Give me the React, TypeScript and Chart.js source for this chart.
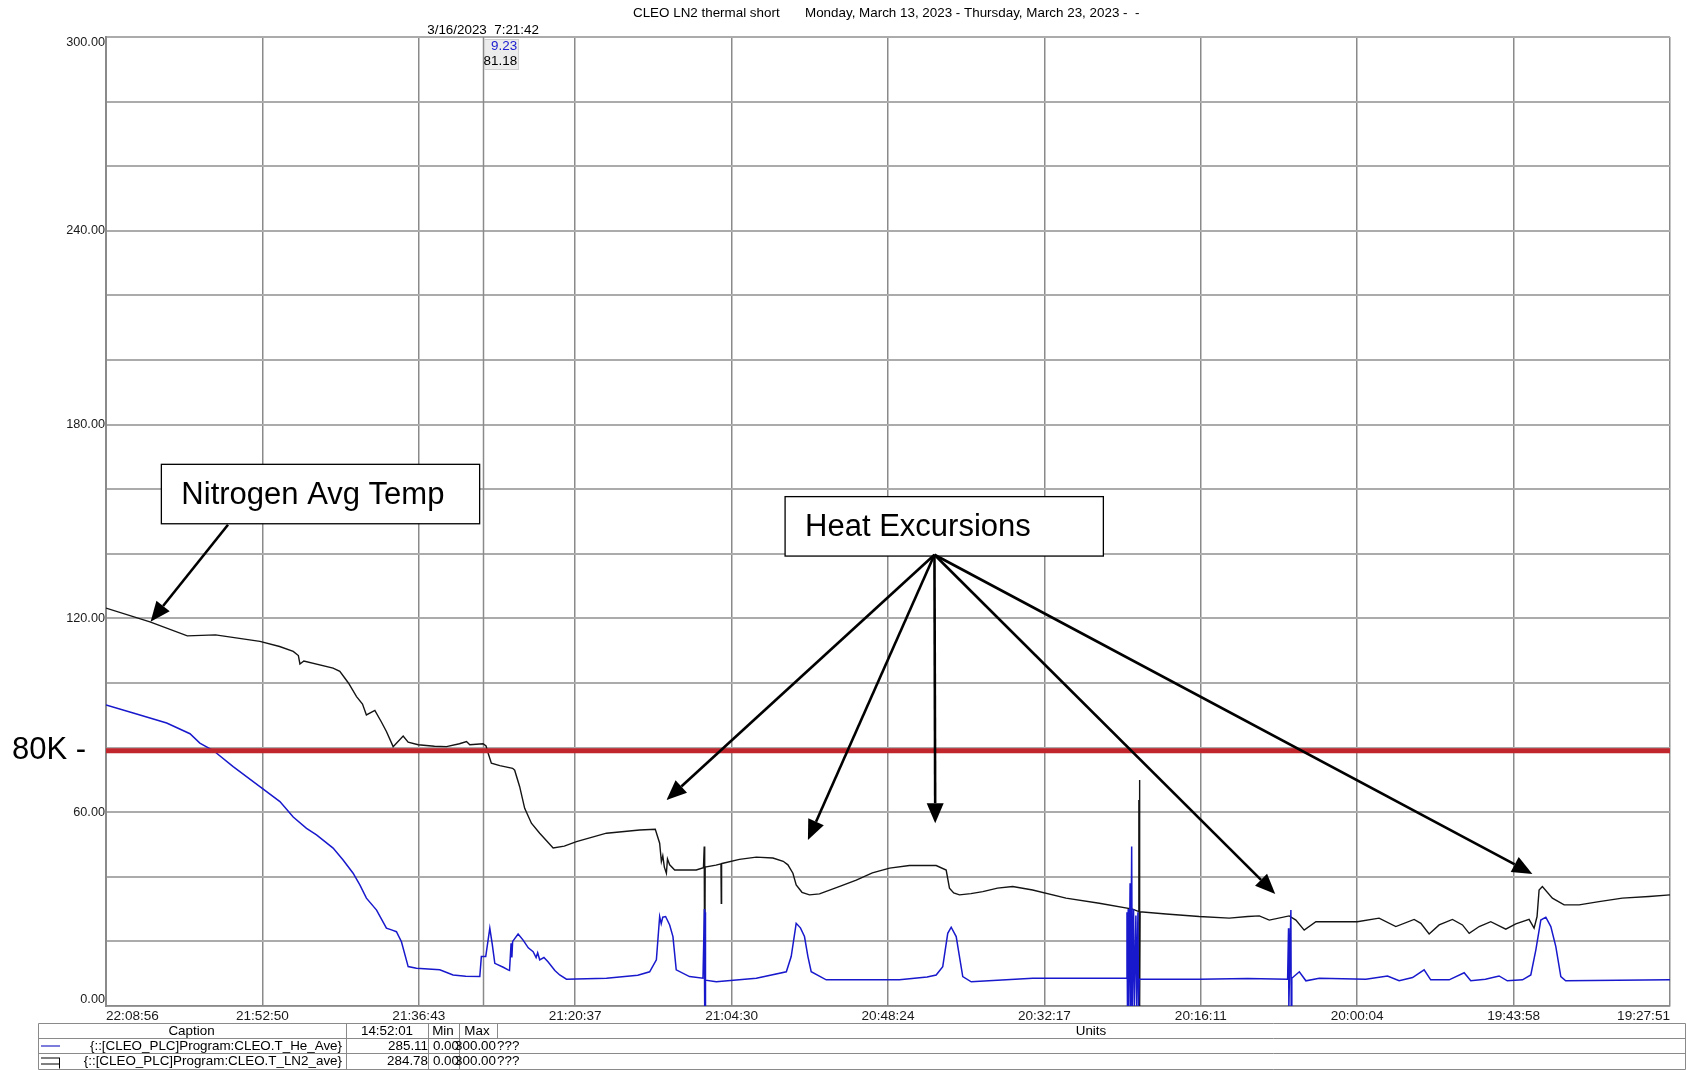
import React, { useEffect, useRef } from "react";
import { Chart, registerables } from "chart.js";

Chart.register(...registerables);

// ---------- data ----------
const chartTitle = "CLEO LN2 thermal short";
const chartRange = "Monday, March 13, 2023 - Thursday, March 23, 2023 -  -";

const xTickLabels = [
  "22:08:56", "21:52:50", "21:36:43", "21:20:37", "21:04:30", "20:48:24",
  "20:32:17", "20:16:11", "20:00:04", "19:43:58", "19:27:51",
];

// LN2 average temperature (black), x in days from the left edge
const lnDays = [
  0.0, 0.281, 0.52, 0.7, 0.984, 1.11, 1.197, 1.23, 1.24, 1.265, 1.452, 1.495, 1.55, 1.602, 1.64, 1.665,
  1.719, 1.76, 1.793, 1.836, 1.9, 1.932, 1.996, 2.1, 2.177, 2.26, 2.305, 2.326, 2.411, 2.43, 2.443, 2.464,
  2.518, 2.6, 2.613, 2.645, 2.677, 2.72, 2.773, 2.859, 2.93, 3.008, 3.2, 3.412, 3.512, 3.54, 3.551, 3.56,
  3.57, 3.583, 3.59, 3.604, 3.636, 3.774, 3.82, 3.825, 3.828, 3.831, 3.9, 3.932, 3.934, 3.936, 3.945, 4.05,
  4.158, 4.264, 4.33, 4.36, 4.392, 4.413, 4.45, 4.498, 4.562, 4.7, 4.797, 4.9, 5.01, 5.137, 5.308, 5.372,
  5.393, 5.42, 5.457, 5.53, 5.606, 5.7, 5.797, 5.925, 6.138, 6.351, 6.564, 6.6, 6.604, 6.606, 6.608, 6.61,
  6.612, 6.778, 6.99, 7.182, 7.3, 7.374, 7.438, 7.565, 7.608, 7.661, 7.736, 7.843, 8.0, 8.14, 8.247, 8.364,
  8.407, 8.46, 8.524, 8.609, 8.673, 8.716, 8.78, 8.854, 8.95, 9.014, 9.099, 9.131, 9.15, 9.163, 9.184, 9.248,
  9.323, 9.419, 9.546, 9.695, 9.866, 10.0,
];
const lnTemps = [
  123.2, 118.9, 114.6, 114.9, 112.9, 111.3, 109.8, 108.5, 105.9, 106.8, 104.6, 103.6, 100.0, 95.8, 93.5, 90.1,
  91.5, 88.0, 85.0, 80.3, 83.6, 81.7, 80.9, 80.4, 80.3, 81.2, 81.9, 80.9, 81.2, 80.5, 78.3, 75.2,
  74.4, 73.6, 73.0, 67.9, 61.2, 56.6, 53.5, 48.9, 49.5, 50.9, 53.5, 54.5, 54.7, 50.4, 44.7, 46.5,
  43.0, 41.1, 45.5, 43.7, 42.1, 42.1, 42.8, 49.4, 0.0, 43.0, 43.6, 44.0, 31.8, 44.1, 44.2, 45.4,
  46.1, 45.8, 44.8, 43.7, 41.1, 37.5, 35.2, 34.4, 34.7, 37.2, 39.0, 41.2, 42.7, 43.5, 43.5, 42.1,
  36.5, 35.0, 34.4, 34.8, 35.4, 36.5, 37.0, 35.9, 33.4, 31.8, 30.0, 29.3, 63.8, 0.0, 70.0, 0.0,
  29.2, 28.5, 27.7, 27.2, 27.7, 27.9, 26.6, 27.9, 26.6, 23.5, 26.1, 26.1, 26.1, 27.2, 24.6, 26.8,
  25.6, 22.3, 25.1, 26.8, 25.1, 22.5, 24.6, 26.1, 23.8, 25.4, 26.8, 24.1, 27.7, 35.9, 37.0, 33.4,
  31.3, 31.3, 32.3, 33.4, 33.9, 34.4,
];

// Helium average temperature (blue)
const heDays = [
  0.0, 0.174, 0.388, 0.537, 0.6, 0.686, 0.813, 0.984, 1.112, 1.197, 1.282, 1.346, 1.452, 1.516, 1.58, 1.623,
  1.665, 1.73, 1.793, 1.83, 1.857, 1.889, 1.932, 1.985, 2.134, 2.219, 2.3, 2.39, 2.4, 2.428, 2.454, 2.47,
  2.486, 2.54, 2.571, 2.58, 2.59, 2.595, 2.6, 2.635, 2.667, 2.7, 2.731, 2.75, 2.76, 2.773, 2.8, 2.826,
  2.87, 2.901, 2.944, 3.2, 3.4, 3.476, 3.519, 3.54, 3.55, 3.56, 3.578, 3.604, 3.625, 3.646, 3.731, 3.817,
  3.826, 3.828, 3.83, 3.832, 3.834, 3.902, 4.158, 4.35, 4.381, 4.413, 4.44, 4.466, 4.488, 4.509, 4.605, 5.073,
  5.25, 5.308, 5.35, 5.382, 5.404, 5.436, 5.457, 5.478, 5.532, 5.925, 6.351, 6.522, 6.528, 6.531, 6.536, 6.54,
  6.548, 6.552, 6.558, 6.562, 6.57, 6.575, 6.585, 6.59, 6.598, 6.602, 6.606, 6.99, 7.3, 7.555, 7.561, 7.563,
  7.576, 7.578, 7.582, 7.63, 7.672, 7.758, 8.055, 8.194, 8.268, 8.354, 8.428, 8.47, 8.588, 8.684, 8.726, 8.82,
  8.907, 8.96, 9.057, 9.11, 9.142, 9.174, 9.206, 9.238, 9.27, 9.302, 9.333, 10.0,
];
const heTemps = [
  93.2, 90.7, 87.6, 84.3, 81.4, 79.1, 74.1, 67.9, 63.3, 58.5, 55.0, 53.0, 48.9, 45.2, 41.1, 37.5,
  33.4, 29.7, 24.1, 23.5, 23.0, 19.9, 12.2, 11.7, 11.2, 9.6, 9.2, 9.1, 15.3, 15.3, 24.1, 19.0,
  13.2, 12.0, 11.2, 11.0, 19.4, 15.0, 20.0, 22.3, 20.4, 18.0, 16.8, 15.0, 16.5, 14.3, 15.0, 13.7,
  11.0, 9.6, 8.3, 8.6, 9.5, 10.6, 14.3, 27.7, 25.5, 27.5, 27.7, 25.1, 21.5, 11.2, 9.1, 8.6,
  30.0, 0.0, 29.0, 0.0, 8.0, 7.5, 8.6, 10.6, 15.3, 25.6, 24.2, 21.5, 15.3, 10.6, 8.1, 8.1,
  9.0, 9.6, 12.2, 22.5, 24.4, 21.5, 15.3, 9.1, 7.5, 8.6, 8.6, 8.6, 29.0, 0.0, 30.0, 0.0,
  38.0, 0.0, 49.4, 0.0, 30.0, 0.0, 28.0, 0.0, 29.0, 0.0, 8.3, 8.3, 8.5, 8.3, 24.1, 0.0,
  29.7, 0.0, 8.6, 10.6, 7.8, 8.6, 8.3, 9.3, 7.8, 8.8, 11.2, 8.1, 8.1, 10.3, 7.8, 8.3,
  9.3, 7.8, 8.1, 9.6, 17.3, 26.6, 27.5, 24.6, 18.4, 9.1, 7.8, 8.1,
];

const thresholdValue = 79;
const thresholdLabel = "80K -";

const cursorDay = 2.411;
const cursorStamp = "3/16/2023  7:21:42";
const cursorHe = "9.23";
const cursorLn = "81.18";

const noteTexts = ["Nitrogen Avg Temp", "Heat Excursions"];
// box corners in data units: [x0, x1, yTop, yBottom]
const noteBoxes = [
  [0.354, 2.389, 167.7, 149.3],
  [4.342, 6.377, 157.7, 139.3],
];
// arrows in data units: [fromX, fromY, toX, toY]
const noteArrows = [
  [0.78, 149.0, 0.285, 119.0],
  [5.297, 139.7, 3.584, 63.8],
  [5.297, 139.7, 4.488, 51.4],
  [5.297, 139.7, 5.302, 56.6],
  [5.297, 139.7, 7.476, 34.7],
  [5.297, 139.7, 9.12, 40.9],
];

const tableHeaders = ["Caption", "14:52:01", "Min", "Max", "Units"];
const legendCaptions = [
  "{::[CLEO_PLC]Program:CLEO.T_He_Ave}",
  "{::[CLEO_PLC]Program:CLEO.T_LN2_ave}",
];
const legendNow = ["285.11", "284.78"];
const legendMin = ["0.00", "0.00"];
const legendMax = ["300.00", "300.00"];
const legendUnits = ["???", "???"];

// ---------- styling ----------
const FONT = '"Liberation Sans", Arial, sans-serif';
const SMALL = 13.4;
const BLUE = "#1818cc";
const BLACK = "#141414";
const RED = "#c0262c";
const GRID_V = "#8a8a8a";
const GRID_H = "#ababab";

function arrow(ctx: CanvasRenderingContext2D, x1: number, y1: number, x2: number, y2: number) {
  const ang = Math.atan2(y2 - y1, x2 - x1);
  const head = 20;
  const half = 8.5;
  const bx = x2 - head * Math.cos(ang);
  const by = y2 - head * Math.sin(ang);
  ctx.beginPath();
  ctx.moveTo(x1, y1);
  ctx.lineTo(bx, by);
  ctx.lineWidth = 2.6;
  ctx.strokeStyle = "#000";
  ctx.stroke();
  ctx.beginPath();
  ctx.moveTo(x2, y2);
  ctx.lineTo(bx + half * Math.sin(ang), by - half * Math.cos(ang));
  ctx.lineTo(bx - half * Math.sin(ang), by + half * Math.cos(ang));
  ctx.closePath();
  ctx.fillStyle = "#000";
  ctx.fill();
}

const decorPlugin = {
  id: "decor",
  beforeDraw(chart: any) {
    const { ctx, width, height } = chart;
    ctx.save();
    ctx.fillStyle = "#fff";
    ctx.fillRect(0, 0, width, height);
    ctx.restore();
    // nudge the end labels of the y axis inside the plot, like the original trend viewer
    try {
      const ys = chart.scales.y;
      const items = ys.getLabelItems(chart.chartArea);
      items.forEach((it: any) => {
        if (it.label === "0.00") it.options.translation[1] -= 7;
        else if (it.label === "300.00") it.options.translation[1] += 5;
      });
    } catch (e) {
      /* ignore */
    }
  },
  beforeDatasetsDraw(chart: any) {
    const { ctx, chartArea, scales } = chart;
    const px = Math.round(scales.x.getPixelForValue(cursorDay)) + 0.5;
    ctx.save();
    ctx.strokeStyle = GRID_V;
    ctx.lineWidth = 1.5;
    ctx.beginPath();
    ctx.moveTo(px, chartArea.top);
    ctx.lineTo(px, chartArea.bottom);
    ctx.stroke();
    ctx.restore();
  },
  afterDraw(chart: any) {
    const { ctx, scales } = chart;
    const xs = scales.x;
    const ys = scales.y;
    ctx.save();

    // title
    ctx.fillStyle = "#000";
    ctx.font = `${SMALL}px ${FONT}`;
    ctx.textBaseline = "middle";
    ctx.textAlign = "left";
    ctx.fillText(chartTitle, 633, 13);
    ctx.fillText(chartRange, 805, 13);

    // cursor readout
    const cx = xs.getPixelForValue(cursorDay);
    ctx.textAlign = "center";
    ctx.fillText(cursorStamp, cx, 30);
    ctx.fillStyle = "#ececec";
    ctx.fillRect(cx + 1, 39, 35, 31);
    ctx.strokeStyle = "#d0d0d0";
    ctx.lineWidth = 1;
    ctx.strokeRect(cx + 1.5, 39.5, 34, 30);
    ctx.textAlign = "right";
    ctx.fillStyle = "#2020d0";
    ctx.fillText(cursorHe, cx + 34, 46);
    ctx.fillStyle = "#000";
    ctx.fillText(cursorLn, cx + 34, 61);

    // 80K label
    ctx.font = `31px ${FONT}`;
    ctx.textAlign = "left";
    ctx.fillStyle = "#000";
    ctx.fillText(thresholdLabel, 12, ys.getPixelForValue(thresholdValue));

    // annotation boxes
    noteBoxes.forEach((b, i) => {
      const l = xs.getPixelForValue(b[0]);
      const r = xs.getPixelForValue(b[1]);
      const t = ys.getPixelForValue(b[2]);
      const bt = ys.getPixelForValue(b[3]);
      ctx.fillStyle = "#fff";
      ctx.fillRect(l, t, r - l, bt - t);
      ctx.strokeStyle = "#000";
      ctx.lineWidth = 1.3;
      ctx.strokeRect(l, t, r - l, bt - t);
      ctx.fillStyle = "#000";
      ctx.font = `31px ${FONT}`;
      ctx.textAlign = "left";
      ctx.textBaseline = "middle";
      ctx.fillText(noteTexts[i], l + 20, (t + bt) / 2 + 1);
    });

    // arrows
    noteArrows.forEach((a) => {
      arrow(
        ctx,
        xs.getPixelForValue(a[0]),
        ys.getPixelForValue(a[1]),
        xs.getPixelForValue(a[2]),
        ys.getPixelForValue(a[3])
      );
    });

    // legend table
    const cols = [38.5, 346.5, 428.5, 459.5, 497.5, 1685.5];
    const rows = [1023.5, 1038.5, 1053.5, 1069.5];
    ctx.strokeStyle = "#8a8a8a";
    ctx.lineWidth = 1;
    rows.forEach((ry) => {
      ctx.beginPath();
      ctx.moveTo(cols[0], ry);
      ctx.lineTo(cols[5], ry);
      ctx.stroke();
    });
    [cols[0], cols[5]].forEach((cxl) => {
      ctx.beginPath();
      ctx.moveTo(cxl, rows[0]);
      ctx.lineTo(cxl, rows[3]);
      ctx.stroke();
    });
    [cols[1], cols[2], cols[3], cols[4]].forEach((cxl, k) => {
      ctx.beginPath();
      ctx.moveTo(cxl, rows[0]);
      ctx.lineTo(cxl, k === 3 ? rows[1] : rows[3]);
      ctx.stroke();
    });
    ctx.font = `${SMALL}px ${FONT}`;
    ctx.fillStyle = "#000";
    ctx.textBaseline = "middle";
    const hy = (rows[0] + rows[1]) / 2;
    ctx.textAlign = "center";
    ctx.fillText(tableHeaders[0], 191.5, hy);
    ctx.fillText(tableHeaders[1], 387, hy);
    ctx.fillText(tableHeaders[2], 443, hy);
    ctx.fillText(tableHeaders[3], 477, hy);
    ctx.fillText(tableHeaders[4], 1091, hy);
    legendCaptions.forEach((cap, i) => {
      const ry = (rows[i + 1] + rows[i + 2]) / 2;
      ctx.textAlign = "right";
      ctx.fillStyle = "#000";
      ctx.fillText(cap, 342, ry);
      ctx.fillText(legendNow[i], 428, ry);
      ctx.fillText(legendMin[i], 459, ry);
      ctx.fillText(legendMax[i], 496, ry);
      ctx.textAlign = "left";
      ctx.fillText(legendUnits[i], 497, ry);
    });
    // swatches
    const y1 = (rows[1] + rows[2]) / 2;
    ctx.strokeStyle = "#7c7cdc";
    ctx.lineWidth = 2;
    ctx.beginPath();
    ctx.moveTo(41, y1);
    ctx.lineTo(60, y1);
    ctx.stroke();
    const y2 = (rows[2] + rows[3]) / 2;
    ctx.strokeStyle = "#000";
    ctx.lineWidth = 1;
    ctx.beginPath();
    ctx.moveTo(41, y2 - 3.5);
    ctx.lineTo(60, y2 - 3.5);
    ctx.moveTo(41, y2 + 2.5);
    ctx.lineTo(60, y2 + 2.5);
    ctx.moveTo(59.5, y2 - 3.5);
    ctx.lineTo(59.5, y2 + 7);
    ctx.stroke();

    ctx.restore();
  },
};

export default function App() {
  const canvasRef = useRef<HTMLCanvasElement | null>(null);

  useEffect(() => {
    document.body.style.margin = "0";
    const canvas = canvasRef.current;
    if (!canvas) return;
    const chart = new Chart(canvas, {
      type: "line",
      data: {
        datasets: [
          {
            label: "80K",
            data: [
              { x: 0, y: thresholdValue },
              { x: 10, y: thresholdValue },
            ],
            borderColor: RED,
            borderWidth: 5,
            pointRadius: 0,
            order: 0,
          },
          {
            label: "T_He_Ave",
            data: heDays.map((d, i) => ({ x: d, y: heTemps[i] })),
            borderColor: BLUE,
            borderWidth: 1.5,
            pointRadius: 0,
            tension: 0,
            order: 1,
          },
          {
            label: "T_LN2_ave",
            data: lnDays.map((d, i) => ({ x: d, y: lnTemps[i] })),
            borderColor: BLACK,
            borderWidth: 1.4,
            pointRadius: 0,
            tension: 0,
            order: 2,
          },
        ],
      },
      options: {
        responsive: false,
        animation: false,
        devicePixelRatio: 1,
        layout: { padding: { left: 0, right: 17, top: 37, bottom: 0 } },
        plugins: {
          legend: { display: false },
          tooltip: { enabled: false },
          title: { display: false },
        },
        scales: {
          x: {
            type: "linear",
            min: 0,
            max: 10,
            afterFit: (s: any) => {
              s.height = 64;
            },
            ticks: {
              stepSize: 1,
              autoSkip: false,
              maxRotation: 0,
              align: "inner",
              padding: 2,
              color: "#1a1a1a",
              font: { family: FONT, size: 13.6 },
              callback: (v: any) => xTickLabels[Math.round(Number(v))] ?? "",
            },
            grid: { color: GRID_V, lineWidth: 1.5, drawTicks: false },
            border: { color: GRID_V, width: 1.5 },
          },
          y: {
            min: 0,
            max: 300,
            afterFit: (s: any) => {
              s.width = 106;
            },
            ticks: {
              stepSize: 20,
              padding: 1,
              color: "#1a1a1a",
              font: { family: FONT, size: 12.7 },
              callback: (v: any) => (Number(v) % 60 === 0 ? Number(v).toFixed(2) : ""),
            },
            grid: { color: GRID_H, lineWidth: 2, drawTicks: false },
            border: { color: GRID_V, width: 2 },
          },
        },
      },
      plugins: [decorPlugin],
    } as any);
    return () => chart.destroy();
  }, []);

  return (
    <div style={{ position: "absolute", left: 0, top: 0, width: 1687, height: 1070 }}>
      <canvas ref={canvasRef} width={1687} height={1070} style={{ display: "block", width: 1687, height: 1070 }} />
    </div>
  );
}
